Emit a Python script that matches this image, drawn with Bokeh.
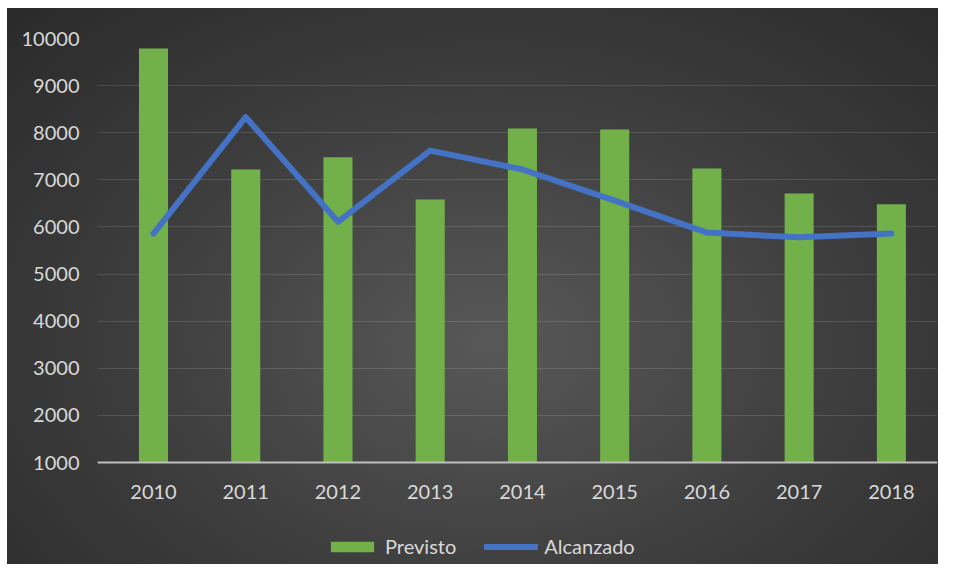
from bokeh.plotting import figure
from bokeh.models import ColumnDataSource, Legend, LegendItem, FixedTicker
from bokeh.embed import file_html
from bokeh.resources import INLINE

years = ["2010", "2011", "2012", "2013", "2014", "2015", "2016", "2017", "2018"]
previsto = [9790, 7220, 7480, 6580, 8090, 8070, 7240, 6710, 6480]
alcanzado = [5860, 8330, 6110, 7620, 7220, 6560, 5880, 5780, 5860]
y_ticks = [1000, 2000, 3000, 4000, 5000, 6000, 7000, 8000, 9000, 10000]

xs = list(range(len(years)))
src = ColumnDataSource(dict(x=xs, previsto=previsto, alcanzado=alcanzado))

FONT = "Lato"
TXT = "#d9d9d9"

p = figure(width=938, height=564, output_backend="svg", toolbar_location=None,
           x_range=(-0.607, 8.5), y_range=(-1165, 10000),
           min_border_left=97, min_border_right=1, min_border_top=38, min_border_bottom=0)
p.background_fill_color = None
p.border_fill_color = None
p.outline_line_color = None
p.styles = {"background": "radial-gradient(ellipse at 52% 60%, #585858 0%, #3c3c3c 55%, #2a2a2a 100%) "
                          "7px 8px / calc(100% - 7px) calc(100% - 8px) no-repeat, #ffffff"}

bars = p.vbar(x="x", top="previsto", bottom=1000, width=0.315, source=src,
              fill_color="#72b14a", line_color=None)
line = p.line(x="x", y="alcanzado", source=src, line_color="#4472c4", line_width=6,
              line_join="round", line_cap="round")

p.xaxis.ticker = FixedTicker(ticks=xs)
p.xaxis.major_label_overrides = {i: y for i, y in enumerate(years)}
p.xaxis.fixed_location = 1000
p.yaxis.ticker = FixedTicker(ticks=y_ticks)

for ax in (p.xaxis[0], p.yaxis[0]):
    ax.major_label_text_font = FONT
    ax.major_label_text_font_size = "20px"
    ax.major_label_text_color = TXT
    ax.major_tick_line_color = None
    ax.minor_tick_line_color = None

p.xaxis.axis_line_color = "#bfbfbf"
p.xaxis.axis_line_width = 2
p.xaxis.major_label_standoff = 16
p.yaxis.axis_line_color = None
p.yaxis.major_label_standoff = 12

p.xgrid.grid_line_color = None
p.ygrid.ticker = FixedTicker(ticks=y_ticks)
p.ygrid.grid_line_color = "#ffffff"
p.ygrid.grid_line_alpha = 0.13
p.ygrid.grid_line_width = 1

legend = Legend(items=[LegendItem(label="Previsto", renderers=[bars]),
                       LegendItem(label="Alcanzado", renderers=[line])],
                orientation="horizontal", location=(228, 6),
                glyph_width=54, glyph_height=13, label_standoff=6, spacing=28,
                label_text_font=FONT, label_text_font_size="20px", label_text_color=TXT,
                background_fill_alpha=0, border_line_color=None, padding=6)
p.add_layout(legend, "center")

open("out.html", "w").write(file_html(p, INLINE))
